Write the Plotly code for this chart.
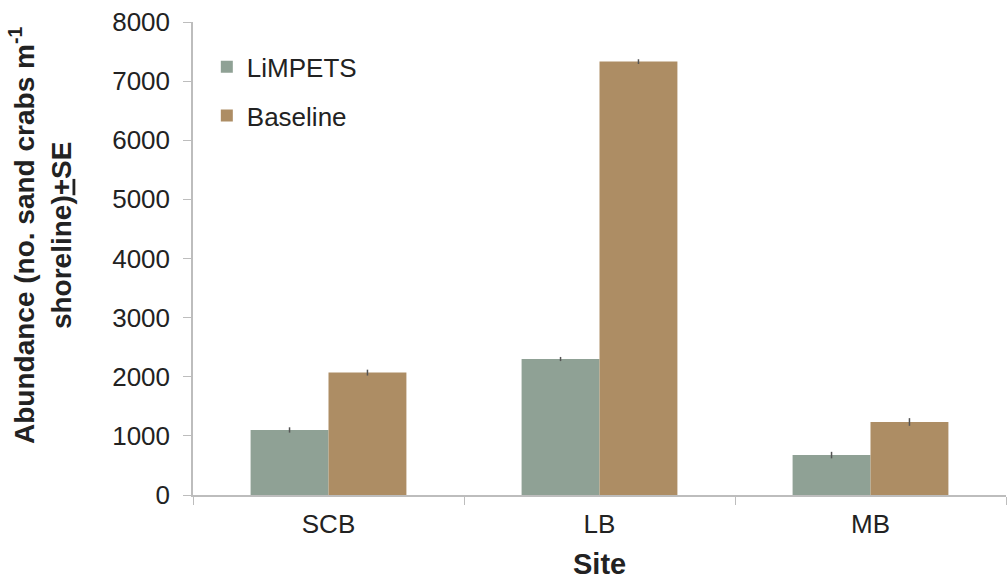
import plotly.graph_objects as go

sites = ["SCB", "LB", "MB"]
limpets = [1100, 2300, 675]
limpets_se = [45, 35, 55]
baseline = [2070, 7330, 1235]
baseline_se = [50, 40, 65]
y_ticks = [0, 1000, 2000, 3000, 4000, 5000, 6000, 7000, 8000]

FONT = "Liberation Sans, Arial, sans-serif"
TXT = "#222222"

fig = go.Figure()
fig.add_trace(go.Bar(
    name="LiMPETS", x=sites, y=limpets, legendgroup="limpets",
    marker=dict(color="#8FA195", line=dict(width=0)),
    error_y=dict(type="data", array=limpets_se, visible=True,
                 color="#555555", thickness=1.5, width=0),
))
fig.add_trace(go.Bar(
    name="Baseline", x=sites, y=baseline, legendgroup="baseline",
    marker=dict(color="#AD8D64", line=dict(width=0)),
    error_y=dict(type="data", array=baseline_se, visible=True,
                 color="#555555", thickness=1.5, width=0),
))

fig.update_layout(
    width=1008, height=581,
    margin=dict(l=193, r=2, t=22, b=86),
    paper_bgcolor="white", plot_bgcolor="white",
    barmode="group", bargap=0.425, bargroupgap=0,
    font=dict(family=FONT, color=TXT, size=26),
    showlegend=True,
    legend=dict(x=0.017, y=0.955, xanchor="left", yanchor="top",
                font=dict(size=26, color=TXT), bgcolor="rgba(0,0,0,0)",
                traceorder="grouped", tracegroupgap=12),
    xaxis=dict(
        showline=True, linecolor="#BDBDBD", linewidth=1.5,
        ticks="outside", tickson="boundaries", ticklen=8, tickcolor="#BDBDBD",
        tickfont=dict(size=26, color=TXT), showgrid=False,
        ticklabelstandoff=5,
    ),
    yaxis=dict(
        range=[0, 8000], tickvals=y_ticks,
        showline=True, linecolor="#BDBDBD", linewidth=1.5,
        ticks="outside", ticklen=8, tickcolor="#BDBDBD",
        tickfont=dict(size=26, color=TXT), showgrid=False, zeroline=False,
        ticklabelstandoff=8,
    ),
)

# x-axis title
fig.add_annotation(
    text="<b>Site</b>", xref="paper", yref="paper", x=0.5, y=-0.146,
    xanchor="center", yanchor="middle", showarrow=False,
    font=dict(size=29, color=TXT),
)

# y-axis title (two lines)
fig.add_annotation(
    text="<b>Abundance (no. sand crabs m<sup>-1</sup><br>shoreline)<u>+</u>SE</b>",
    xref="paper", yref="paper", x=-0.188, y=0.548,
    xanchor="center", yanchor="middle", textangle=-90,
    showarrow=False, font=dict(size=28, color=TXT), align="center",
)

fig.write_html("out.html")
